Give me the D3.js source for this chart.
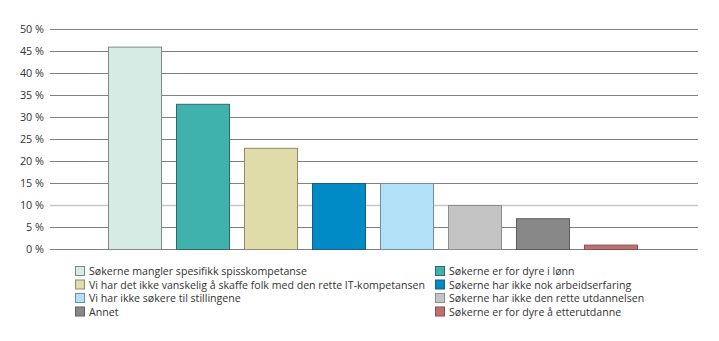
<!DOCTYPE html>
<html><head><meta charset="utf-8">
<script src="https://cdn.jsdelivr.net/npm/d3@7"></script>
<style>body{margin:0;background:#fff}text{font-family:"Open Sans",sans-serif}</style>
</head><body><svg id="c" width="719" height="341"></svg>
<script>
const categories = [
  "Søkerne mangler spesifikk spisskompetanse",
  "Søkerne er for dyre i lønn",
  "Vi har det ikke vanskelig å skaffe folk med den rette IT-kompetansen",
  "Søkerne har ikke nok arbeidserfaring",
  "Vi har ikke søkere til stillingene",
  "Søkerne har ikke den rette utdannelsen",
  "Annet",
  "Søkerne er for dyre å etterutdanne"
];
const values = [46, 33, 23, 15, 15, 10, 7, 1];
const colors = ["#d5ebe3","#3fb2ae","#e0dcaa","#008bc6","#b2e0f6","#c4c4c4","#888888","#c07070"];
const strokes = ["#7d8a85","#2f6b69","#8e8b6c","#1c5d7a","#6f8f9e","#8c8c8c","#5e5e5e","#8a5050"];
const yTicks = [0,5,10,15,20,25,30,35,40,45,50];

const svg = d3.select("#c");
const y = d3.scaleLinear().domain([0,50]).range([249,29]);
const x = d3.scaleBand().domain(categories).range([101,645]).paddingInner(14/68).paddingOuter(14/68/2);

svg.append("g").selectAll("line").data(yTicks).join("line")
  .attr("x1",50).attr("x2",698)
  .attr("y1",d=>y(d)+0.5).attr("y2",d=>y(d)+0.5)
  .attr("stroke",d=>d===10?"#c6c6c6":"#808080").attr("stroke-width",d=>d===10?1.5:1);

svg.append("g").selectAll("text").data(yTicks).join("text")
  .attr("x",44).attr("y",d=>y(d)+4).attr("text-anchor","end")
  .attr("font-size",10.8).attr("fill","#333").text(d=>d+" %");

svg.append("g").selectAll("rect").data(values).join("rect")
  .attr("x",(d,i)=>x(categories[i])+0.5).attr("width",x.bandwidth()-1)
  .attr("y",d=>y(d)+0.5).attr("height",d=>y(0)-y(d))
  .attr("fill",(d,i)=>colors[i]).attr("stroke",(d,i)=>strokes[i]).attr("stroke-width",1);

const leg = svg.append("g").selectAll("g").data(categories).join("g")
  .attr("transform",(d,i)=>`translate(${i%2===0?75:435},${266+Math.floor(i/2)*13.5})`);
leg.append("rect").attr("x",0.5).attr("y",0.5).attr("width",9).attr("height",9)
  .attr("fill",(d,i)=>colors[i]).attr("stroke",(d,i)=>strokes[i]);
leg.append("text").attr("x",14).attr("y",9).attr("font-size",10.6).attr("fill","#333").text(d=>d);
</script></body></html>
